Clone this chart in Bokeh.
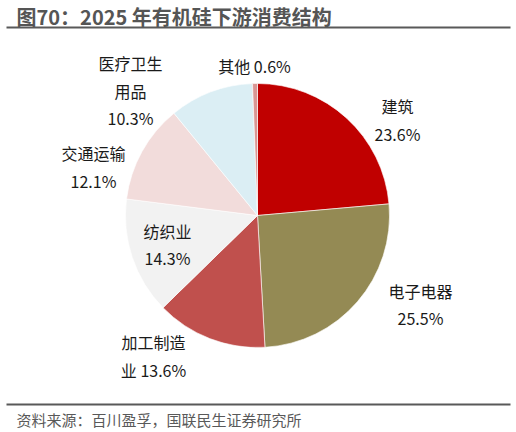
import numpy as np
from bokeh.plotting import figure
from bokeh.models import Range1d, ColumnDataSource
from bokeh.core.properties import value
from bokeh.embed import file_html
from bokeh.resources import INLINE

# ---- data ----
categories = ["建筑", "电子电器", "加工制造业", "纺织业", "交通运输", "医疗卫生用品", "其他"]
shares = [23.6, 25.5, 13.6, 14.3, 12.1, 10.3, 0.6]
label_lines = [["建筑", "23.6%"], ["电子电器", "25.5%"], ["加工制造", "业 13.6%"],
               ["纺织业", "14.3%"], ["交通运输", "12.1%"], ["医疗卫生", "用品", "10.3%"],
               ["其他 0.6%"]]
colors = ["#C00000", "#948A54", "#C0504D", "#F2F2F2", "#F2DCDB", "#DBEEF4", "#D99694"]

title_text = "图70：2025 年有机硅下游消费结构"
source_text = "资料来源：百川盈孚，国联民生证券研究所"

# ---- layout (pixels) ----
W, H = 516, 432
cx, cy, R = 257, 217, 132
# label block centres relative to pie centre (screen dx, dy; dy positive downward)
label_offsets = [(140, -95.5), (163, 89), (-104, 140.5), (-90, 29), (-164, -48.5), (-127, -125), (-3, -150)]
line_gap = 27.5
FONT = "Noto Sans CJK SC"

p = figure(width=W, height=H, output_backend="svg", toolbar_location=None,
           x_range=Range1d(0, W), y_range=Range1d(0, H), min_border=0)
p.axis.visible = False
p.grid.visible = False
p.outline_line_color = None
p.background_fill_color = "white"
p.border_fill_color = "white"

vals = np.array(shares, dtype=float)
frac = vals / vals.sum()
cum = np.concatenate([[0], np.cumsum(frac)])
start = np.pi / 2 - 2 * np.pi * cum[:-1]
end = np.pi / 2 - 2 * np.pi * cum[1:]

src = ColumnDataSource(dict(start=start, end=end, color=colors, cat=categories))
p.wedge(x=cx, y=cy, radius=R, start_angle="start", end_angle="end", direction="clock",
        fill_color="color", line_color="white", line_width=0.6, source=src)

# labels
lx, ly, lt = [], [], []
for lines, (dx, dy) in zip(label_lines, label_offsets):
    n = len(lines)
    for i, t in enumerate(lines):
        off = (i - (n - 1) / 2) * line_gap
        lx.append(cx + dx)
        ly.append(cy - (dy + off))
        lt.append(t)
p.text(x=lx, y=ly, text=lt, text_align="center", text_baseline="middle",
       text_font=value(FONT), text_font_size="16px", text_color="#1a1a1a")

# title
p.text(x=[16], y=[H - 16], text=[title_text], text_align="left", text_baseline="middle",
       text_font=value(FONT), text_font_size="20px", text_font_style="bold", text_color="#555555")
p.segment(x0=[6], y0=[H - 27], x1=[510], y1=[H - 27], line_color="#595959", line_width=2)

# source
p.segment(x0=[6], y0=[H - 404], x1=[510], y1=[H - 404], line_color="#595959", line_width=2)
p.text(x=[16], y=[H - 419], text=[source_text], text_align="left", text_baseline="middle",
       text_font=value(FONT), text_font_size="15px", text_color="#595959")

open("out.html", "w").write(file_html(p, INLINE))
